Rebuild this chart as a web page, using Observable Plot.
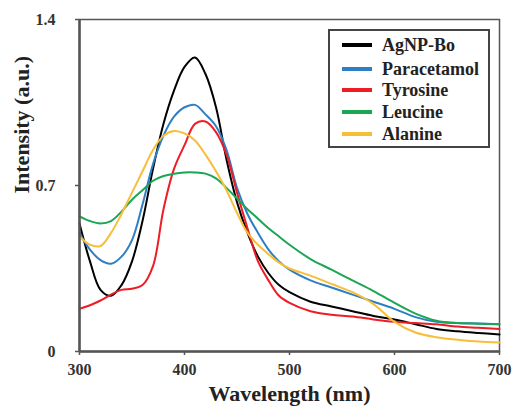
<!DOCTYPE html>
<html>
<head>
<meta charset="utf-8">
<script src="https://cdn.jsdelivr.net/npm/d3@7"></script>
<script src="https://cdn.jsdelivr.net/npm/@observablehq/plot@0.6"></script>
<style>
  body { margin: 0; background: #fff; }
  #wrap { position: relative; width: 512px; height: 412px; }
  #legend { position: absolute; left: 328px; top: 29px; width: 162px; height: 119px; box-sizing: border-box;
    border: 2px solid #444; background: #fff; font-family: "Liberation Serif", serif; font-weight: bold; font-size: 18px; color: #222; }
  .item { position: absolute; left: 12px; height: 20px; display: flex; align-items: center; white-space: nowrap; }
  .sw { width: 30px; height: 4px; margin-right: 10px; }
</style>
</head>
<body>
<div id="wrap"><div id="legend"></div></div>
<script>
const wavelengths = [300,310,320,330,340,350,360,370,380,390,400,410,420,430,440,450,460,470,480,490,500,520,540,560,580,600,620,640,660,680,700];
const seriesNames = ["AgNP-Bo","Paracetamol","Tyrosine","Leucine","Alanine"];
const seriesColors = ["#000000","#2e7fc4","#ee1c25","#1aa653","#f7be3a"];
const agnpBo =      [0.54,0.38,0.26,0.235,0.28,0.38,0.55,0.77,0.96,1.10,1.20,1.24,1.17,1.03,0.81,0.63,0.50,0.40,0.33,0.28,0.25,0.21,0.19,0.17,0.15,0.135,0.115,0.095,0.085,0.078,0.072];
const paracetamol = [0.50,0.43,0.385,0.37,0.40,0.47,0.62,0.79,0.91,0.99,1.03,1.04,1.00,0.95,0.85,0.69,0.58,0.50,0.43,0.38,0.345,0.30,0.27,0.24,0.21,0.18,0.145,0.125,0.12,0.118,0.115];
const tyrosine =    [0.18,0.195,0.215,0.24,0.26,0.265,0.28,0.36,0.60,0.77,0.87,0.96,0.97,0.925,0.83,0.67,0.52,0.38,0.30,0.235,0.205,0.17,0.155,0.148,0.135,0.125,0.12,0.115,0.105,0.10,0.095];
const leucine =     [0.57,0.55,0.54,0.55,0.59,0.64,0.68,0.72,0.74,0.75,0.755,0.755,0.75,0.73,0.69,0.645,0.60,0.56,0.52,0.485,0.45,0.39,0.345,0.30,0.255,0.205,0.16,0.13,0.12,0.117,0.115];
const alanine =     [0.485,0.45,0.445,0.50,0.58,0.67,0.76,0.85,0.91,0.93,0.92,0.89,0.83,0.76,0.68,0.585,0.50,0.45,0.41,0.375,0.35,0.32,0.285,0.25,0.20,0.125,0.08,0.06,0.05,0.042,0.038];
const xTicks = [300,400,500,600,700];
const yTicks = [0,0.7,1.4];
const xLabel = "Wavelength (nm)";
const yLabel = "Intensity (a.u.)";

const allSeries = [agnpBo, paracetamol, tyrosine, leucine, alanine];
const data = [];
allSeries.forEach((vals, i) => vals.forEach((v, j) => data.push({series: seriesNames[i], x: wavelengths[j], y: v})));

const font = "Liberation Serif, Times New Roman, serif";
const chart = Plot.plot({
  width: 512, height: 412,
  marginLeft: 79, marginRight: 13, marginTop: 19, marginBottom: 61,
  style: {fontFamily: font, fontWeight: "bold", background: "#fff"},
  x: {domain: [300, 700]},
  y: {domain: [0, 1.4]},
  color: {domain: seriesNames, range: seriesColors},
  marks: [
    Plot.frame({stroke: "#555", strokeWidth: 1.5}),
    Plot.line(data, {x: "x", y: "y", z: "series", stroke: "series", strokeWidth: 2, curve: "catmull-rom"}),
    Plot.ruleY([0], {stroke: "#555", strokeWidth: 2.5}),
    Plot.ruleX([300], {stroke: "#555", strokeWidth: 2.5}),
    Plot.axisX({ticks: xTicks, tickSize: 4, tickPadding: 8, fontSize: 16, fill: "#333", stroke: "#555", strokeWidth: 1.5, label: null}),
    Plot.axisY({ticks: yTicks, tickSize: 4, tickPadding: 20, fontSize: 16, fill: "#333", stroke: "#555", strokeWidth: 1.5, label: null, tickFormat: d => String(d)}),
    Plot.text([xLabel], {frameAnchor: "bottom", dy: 49, fontSize: 22, fontWeight: "bold", fill: "#222"}),
    Plot.text([yLabel], {frameAnchor: "left", dx: -58, dy: 8, rotate: -90, fontSize: 22, fontWeight: "bold", fill: "#222"})
  ]
});
document.getElementById("wrap").prepend(chart);

const legend = document.getElementById("legend");
const centers = [14, 38, 59, 81, 103];
seriesNames.forEach((name, i) => {
  const item = document.createElement("div");
  item.className = "item";
  item.style.top = (centers[i] - 10) + "px";
  const sw = document.createElement("span");
  sw.className = "sw";
  sw.style.background = seriesColors[i];
  const t = document.createElement("span");
  t.textContent = name;
  item.append(sw, t);
  legend.append(item);
});
</script>
</body>
</html>
